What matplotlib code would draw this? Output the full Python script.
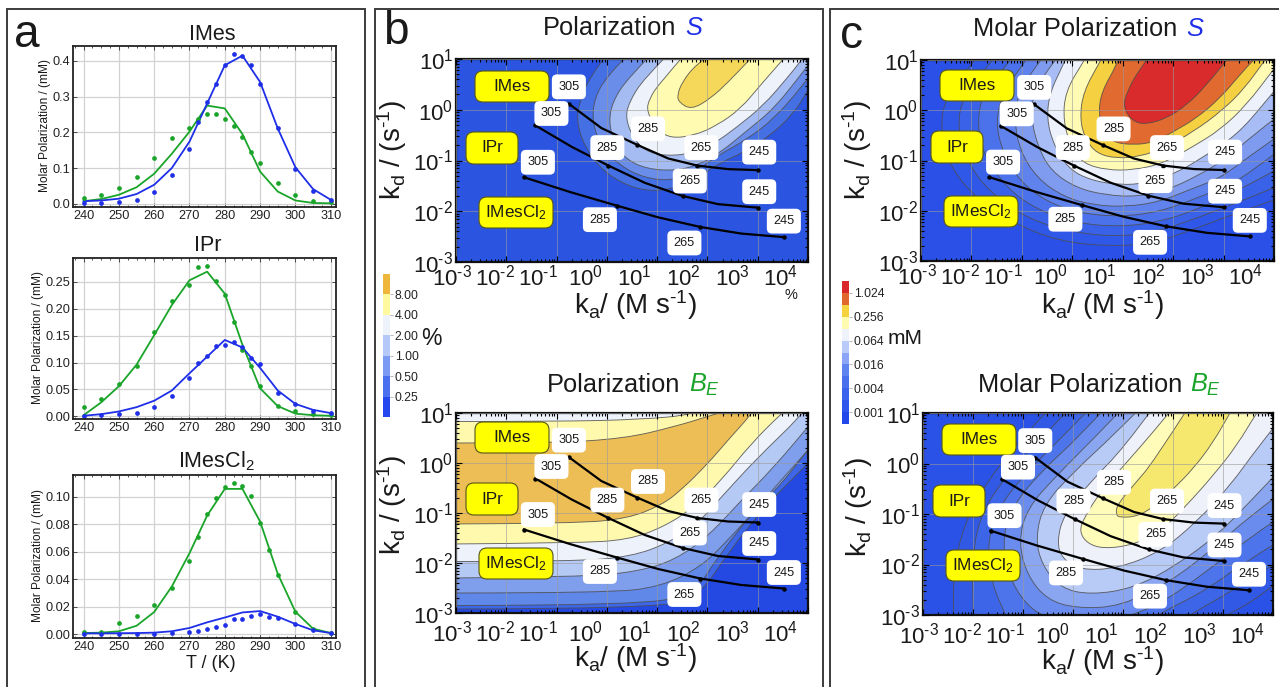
"""Hyperpolarization panels: molar polarization curves and ka/kd contour maps."""

import matplotlib
matplotlib.use("Agg")
import matplotlib.pyplot as plt
import numpy as np
from matplotlib.colorbar import ColorbarBase
from matplotlib.colors import BoundaryNorm, ListedColormap
from matplotlib.patches import FancyBboxPatch, PathPatch, Rectangle
from matplotlib.path import Path
from matplotlib.ticker import LogLocator, NullFormatter
from matplotlib.transforms import Affine2D

plt.rcParams["font.family"] = ["Liberation Sans", "DejaVu Sans"]
plt.rcParams["mathtext.fontset"] = "custom"
plt.rcParams["mathtext.rm"] = "Liberation Sans"
plt.rcParams["mathtext.it"] = "Liberation Sans:italic"
plt.rcParams["mathtext.default"] = "regular"

W, H = 1279, 687
BLUE = "#1f2fe8"
GREEN = "#1aa52a"
TEXT = "#1a1a1a"

# panel a: temperatures
T_pts = [240, 245, 250, 255, 260, 265, 270, 272.5, 275, 277.5, 280, 282.5, 285, 287.5, 290, 295, 300, 305, 310]
T_pts_cl = [240, 245, 250, 255, 260, 265, 270, 272.5, 275, 277.5, 280, 282.5, 285, 287.5, 290, 292.5, 295, 300, 305, 310]
T_fit = [240, 245, 250, 255, 260, 265, 270, 275, 280, 285, 290, 295, 300, 305, 310]

imes_blue_pts = [.002, .002, .004, .011, .033, .081, .153, .23, .285, .336, .39, .42, .413, .389, .336, .212, .098, .036, .009]
imes_blue_fit = [.007, .009, .014, .027, .053, .10, .174, .281, .388, .415, .341, .211, .102, .041, .011]
imes_green_pts = [.015, .025, .044, .075, .128, .183, .212, .238, .252, .251, .236, .218, .188, .145, .115, .059, .025, .008, .004]
imes_green_fit = [.007, .013, .025, .046, .084, .14, .202, .275, .267, .195, .09, .034, .009, .002, .001]

ipr_blue_pts = [0, .002, .004, .007, .018, .038, .072, .10, .112, .131, .132, .138, .129, .109, .097, .043, .022, .01, .006]
ipr_blue_fit = [.001, .004, .009, .017, .029, .048, .08, .111, .142, .128, .09, .048, .023, .012, .006]
ipr_green_pts = [.018, .033, .06, .093, .157, .215, .245, .277, .28, .251, .225, .176, .123, .093, .057, .019, .009, .004, .002]
ipr_green_fit = [.002, .026, .056, .096, .151, .207, .253, .269, .228, .133, .052, .019, .005, .002, .001]

cl_blue_pts = [0, 0, 0, 0, .0002, .0007, .0017, .0022, .0036, .0048, .0068, .0111, .0111, .0133, .0143, .0126, .0116, .0073, .0027, .0007]
cl_blue_fit = [.0005, .0005, .0006, .0007, .001, .002, .0044, .0085, .012, .0157, .0167, .0126, .0073, .0027, .0007]
cl_green_pts = [.0017, .0017, .0077, .0133, .021, .0337, .053, .0707, .0874, .0993, .1073, .1097, .108, .1002, .0811, .0608, .0429, .0157, .0034, .001]
cl_green_fit = [.0007, .001, .002, .006, .016, .0346, .0588, .0862, .1056, .1056, .0818, .0438, .0162, .0039, .0007]

# temperature tracks, log10 ka / log10 kd
imes_track_x = [-0.755, -0.11, 0.60, 1.22, 1.80, 2.41, 3.01]
imes_track_y = [0.117, -0.36, -0.69, -0.96, -1.10, -1.17, -1.19]
ipr_track_x = [-1.42, -0.70, 0.03, 0.755, 1.51, 2.21, 3.01]
ipr_track_y = [-0.31, -0.73, -1.10, -1.44, -1.70, -1.86, -1.93]
cl_track_x = [-1.65, -0.735, 0.20, 1.02, 1.86, 2.675, 3.52]
cl_track_y = [-1.33, -1.62, -1.89, -2.12, -2.31, -2.44, -2.51]
temp_labels = ["305", "285", "265", "245"]

# contour lines, log10 ka / log10 kd, outermost first
pol_s_lines = [
    [(0.01, 1.1), (-0.32, 0.68), (-0.55, 0.15), (-0.60, -0.24), (-0.45, -0.71), (-0.12, -1.17), (0.34, -1.47), (0.80, -1.60), (1.27, -1.57), (1.80, -1.34), (2.26, -1.04), (2.72, -0.84), (3.25, -0.51), (3.71, -0.08), (3.98, 0.35), (4.1, 0.55)],
    [(0.44, 1.1), (0.01, 0.68), (-0.25, 0.22), (-0.29, -0.24), (-0.12, -0.71), (0.27, -1.11), (0.74, -1.34), (1.27, -1.40), (1.73, -1.24), (2.19, -0.91), (2.79, -0.58), (3.32, -0.18), (3.85, 0.42), (4.1, 0.75)],
    [(0.90, 1.1), (0.41, 0.62), (0.11, 0.15), (0.04, -0.24), (0.14, -0.64), (0.37, -0.97), (0.80, -1.17), (1.40, -1.20), (1.86, -1.07), (2.26, -0.84), (2.79, -0.41), (3.32, 0.02), (3.85, 0.68), (4.1, 1.0)],
    [(1.23, 1.1), (0.74, 0.62), (0.44, 0.15), (0.37, -0.18), (0.54, -0.58), (0.77, -0.81), (1.13, -0.91), (1.66, -0.87), (2.13, -0.67), (2.59, -0.34), (3.12, 0.09), (3.58, 0.62), (3.85, 0.95), (3.95, 1.1)],
    [(1.56, 1.1), (1.07, 0.55), (0.84, 0.22), (0.79, -0.05), (1.03, -0.41), (1.27, -0.56), (1.73, -0.51), (2.19, -0.31), (2.66, 0.02), (3.05, 0.48), (3.51, 1.0), (3.6, 1.1)],
    [(2.06, 1.1), (1.76, 0.88), (1.50, 0.55), (1.40, 0.29), (1.43, 0.15), (1.68, 0.0), (2.06, 0.22), (2.42, 0.55), (2.85, 1.0), (2.95, 1.1)],
]
pol_s_colors = ["#2b55e0", "#4470e4", "#6a8dea", "#a5bcf2", "#eef2fa", "#fffbb0", "#f5d85a"]

pol_be_lines = [
    [(-3.1, -2.92), (1.22, -2.92), (1.88, -2.60), (2.41, -1.80), (3.14, -0.87), (4.0, -0.01), (4.1, 0.1)],
    [(-3.1, -2.85), (0.69, -2.85), (1.75, -2.60), (2.21, -1.87), (2.94, -0.94), (4.0, 0.26), (4.1, 0.36)],
    [(-3.1, -2.60), (0.03, -2.60), (1.09, -2.47), (1.88, -2.07), (2.41, -1.54), (3.07, -0.81), (3.60, -0.28), (4.1, 0.4)],
    [(-3.1, -2.30), (-0.5, -2.28), (0.62, -2.17), (1.35, -1.94), (2.01, -1.47), (2.68, -0.74), (3.27, -0.14), (4.0, 0.72), (4.1, 0.85)],
    [(-3.1, -1.97), (-0.64, -1.97), (0.49, -1.87), (1.22, -1.60), (1.81, -1.21), (2.34, -0.61), (3.01, 0.12), (3.87, 0.95), (3.95, 1.1)],
    [(-3.1, -1.62), (-0.64, -1.60), (0.42, -1.54), (1.15, -1.27), (1.75, -0.87), (2.28, -0.34), (2.87, 0.39), (3.47, 0.99), (3.6, 1.1)],
    [(-3.1, -1.22), (-0.64, -1.21), (0.42, -1.11), (1.09, -0.84), (1.48, -0.54), (2.01, -0.01), (2.41, 0.46), (2.87, 0.97), (2.95, 1.1)],
    # upper edges of the plateau, falling again towards high kd
    [(-3.1, 0.40), (-1.10, 0.40), (0.36, 0.49), (1.35, 0.73), (2.01, 0.93), (2.54, 1.1)],
    [(-3.1, 0.83), (-0.97, 0.83), (0.69, 0.87), (1.75, 0.97), (1.95, 1.1)],
]
pol_be_colors = ["#2449e3", "#3d67e6", "#6088e9", "#7f9fec", "#b5c9f5", "#eef2fa", "#fff9ae", "#edbe55", "#fff9ae", "#eef2fa"]

molar_s_lines = [
    [(-1.85, 1.1), (-2.02, 0.90), (-2.52, 0.24), (-2.62, -0.36), (-2.42, -1.16), (-1.83, -1.82), (-1.10, -2.28), (-0.24, -2.61), (0.75, -2.71), (1.61, -2.65), (2.46, -2.35), (3.32, -2.02), (4.1, -1.75)],
    [(-1.5, 1.1), (-1.66, 0.90), (-2.16, 0.30), (-2.29, -0.36), (-2.02, -1.16), (-1.56, -1.69), (-0.90, -2.15), (-0.04, -2.42), (0.88, -2.52), (1.67, -2.42), (2.46, -2.15), (3.32, -1.82), (4.1, -1.5)],
    [(-1.15, 1.1), (-1.30, 0.90), (-1.76, 0.37), (-1.89, -0.23), (-1.76, -0.89), (-1.30, -1.55), (-0.70, -1.98), (0.09, -2.25), (0.95, -2.32), (1.74, -2.22), (2.46, -1.98), (3.26, -1.62), (4.1, -1.15)],
    [(-0.85, 1.1), (-0.97, 0.93), (-1.36, 0.37), (-1.53, -0.23), (-1.36, -0.89), (-1.03, -1.42), (-0.51, -1.82), (0.15, -2.05), (0.95, -2.12), (1.74, -2.02), (2.46, -1.75), (3.12, -1.49), (3.59, -1.19), (4.1, -0.8)],
    [(-0.55, 1.1), (-0.70, 0.90), (-1.07, 0.37), (-1.15, -0.23), (-1.03, -0.82), (-0.70, -1.35), (-0.18, -1.72), (0.42, -1.89), (1.08, -1.92), (1.74, -1.82), (2.40, -1.55), (2.93, -1.35), (3.45, -0.96), (4.1, -0.5)],
    [(-0.25, 1.1), (-0.37, 0.97), (-0.77, 0.37), (-0.82, -0.16), (-0.67, -0.76), (-0.41, -1.22), (0.09, -1.55), (0.68, -1.69), (1.28, -1.72), (1.87, -1.59), (2.46, -1.32), (3.06, -0.96), (3.59, -0.49), (4.1, -0.1)],
    [(-0.1, 1.1), (-0.18, 0.90), (-0.44, 0.37), (-0.51, -0.16), (-0.37, -0.69), (-0.08, -1.16), (0.35, -1.39), (0.95, -1.49), (1.47, -1.45), (2.07, -1.25), (2.66, -0.89), (3.26, -0.49), (3.78, 0.10), (4.1, 0.5)],
    [(0.3, 1.1), (0.22, 0.97), (-0.14, 0.37), (-0.18, -0.23), (-0.01, -0.76), (0.22, -1.06), (0.68, -1.19), (1.21, -1.19), (1.80, -1.06), (2.40, -0.72), (2.93, -0.39), (3.45, 0.10), (3.98, 0.80), (4.1, 0.95)],
    [(0.62, 1.1), (0.55, 0.97), (0.22, 0.37), (0.15, -0.16), (0.25, -0.56), (0.48, -0.86), (0.88, -0.96), (1.34, -0.92), (1.80, -0.76), (2.40, -0.43), (2.99, 0.01), (3.42, 0.44), (3.82, 1.0), (3.9, 1.1)],
    [(0.95, 1.1), (0.88, 0.90), (0.58, 0.37), (0.52, -0.06), (0.62, -0.43), (0.81, -0.64), (1.21, -0.69), (1.61, -0.64), (2.0, -0.43), (2.46, -0.16), (2.93, 0.24), (3.32, 0.70), (3.59, 1.0), (3.7, 1.1)],
    [(1.55, 1.1), (1.34, 0.83), (1.08, 0.37), (1.01, 0.04), (1.21, -0.23), (1.47, -0.28), (1.87, -0.16), (2.27, 0.10), (2.66, 0.50), (3.06, 1.0), (3.15, 1.1)],
]
molar_s_colors = ["#2a50e8", "#3058e8", "#3a62e9", "#4c72eb", "#5f82ed", "#7e9bf0", "#a8bdf5", "#edf1fb", "#fffbb5", "#f5d040", "#e06a30", "#d92b2b"]

molar_be_lines = [
    [(-0.45, 1.1), (-1.05, 0.49), (-1.72, -0.36), (-2.19, -1.22), (-2.39, -2.14), (-2.39, -3.06), (-2.39, -3.33), (2.68, -3.33), (2.95, -3.06), (3.61, -2.73), (4.1, -2.34)],
    [(-0.05, 1.1), (-0.65, 0.49), (-1.39, -0.30), (-1.89, -1.09), (-2.02, -2.01), (-1.99, -3.06), (-1.99, -3.33), (2.01, -3.33), (2.21, -3.06), (3.28, -2.47), (4.1, -1.94)],
    [(0.35, 1.1), (-0.25, 0.49), (-0.99, -0.23), (-1.55, -0.96), (-1.72, -1.68), (-1.62, -2.40), (-1.32, -3.06), (-1.19, -3.33), (1.35, -3.33), (1.55, -3.06), (2.61, -2.54), (3.35, -2.01), (4.1, -1.55)],
    [(0.65, 1.1), (0.08, 0.49), (-0.65, -0.17), (-1.25, -0.89), (-1.42, -1.61), (-1.25, -2.34), (-0.82, -2.93), (-0.25, -3.13), (0.68, -3.13), (1.61, -2.87), (2.68, -2.14), (3.41, -1.55), (4.1, -1.09)],
    [(1.0, 1.1), (0.48, 0.56), (-0.32, -0.23), (-0.92, -0.89), (-1.09, -1.55), (-0.92, -2.21), (-0.52, -2.70), (0.08, -2.87), (0.95, -2.83), (1.95, -2.34), (2.81, -1.68), (3.48, -1.09), (4.1, -0.63)],
    [(1.35, 1.1), (0.81, 0.56), (0.01, -0.17), (-0.59, -0.82), (-0.75, -1.48), (-0.62, -2.01), (-0.25, -2.47), (0.35, -2.60), (1.21, -2.47), (2.08, -2.01), (2.88, -1.42), (3.48, -0.82), (4.1, -0.17)],
    [(1.6, 1.1), (1.01, 0.30), (0.35, -0.36), (-0.19, -1.02), (-0.32, -1.55), (-0.22, -1.88), (0.15, -2.11), (0.88, -2.08), (1.75, -1.75), (2.48, -1.15), (3.15, -0.43), (3.68, 0.30), (4.1, 0.82)],
    [(2.0, 1.1), (1.61, 0.63), (1.08, 0.03), (0.55, -0.56), (0.21, -1.09), (0.13, -1.35), (0.28, -1.58), (0.61, -1.69), (1.21, -1.61), (1.75, -1.35), (2.28, -0.82), (2.81, -0.23), (3.28, 0.36), (3.68, 1.02), (3.75, 1.1)],
    [(2.3, 1.1), (1.61, 0.03), (1.21, -0.43), (0.88, -0.82), (0.86, -1.0), (0.92, -1.07), (1.28, -1.05), (1.61, -0.86), (1.95, -0.56), (2.41, -0.10), (2.81, 0.43), (3.15, 1.02), (3.2, 1.1)],
]
molar_be_colors = ["#2a52e6", "#3159e6", "#3d65e8", "#4d74ea", "#6a8cee", "#8aa6f1", "#b8cbf7", "#eef1fa", "#fffbb8", "#f6e86e"]

pct_levels = [0.125, 0.25, 0.5, 1, 2, 4, 8, 16]
pct_ticks = [0.25, 0.5, 1, 2, 4, 8]
pct_colors = ["#2448ee", "#4a70f0", "#7a9af4", "#b4c8f9", "#eef2fb", "#fff9a0", "#efb63c"]
mm_levels = [0.0005, 0.001, 0.002, 0.004, 0.008, 0.016, 0.032, 0.064, 0.128, 0.256, 0.512, 1.024, 2.048]
mm_ticks = [0.001, 0.004, 0.016, 0.064, 0.256, 1.024]
mm_colors = ["#2248ec", "#2f56ec", "#3a63ee", "#4a70ee", "#5f83f0", "#8aa5f5", "#b8cbfa", "#eef2fc", "#fffbb0", "#f4d33e", "#e0682e", "#d9262a"]

x_exponents = [-3, -2, -1, 0, 1, 2, 3, 4]
y_exponents = [-3, -2, -1, 0, 1]
# the x labels sit off their ticks in the original
x_label_dx = [-4, 39, 82, 130, 178, 227, 276, 325]


def power_label(e):
    # short hyphen in the exponent, the mathtext minus is too wide here
    return "10$^{%s}$" % str(e).replace("-", "\u2010")


def px_axes(fig, left, top, right, bottom):
    return fig.add_axes([left / W, 1 - bottom / H, (right - left) / W, (bottom - top) / H])


def fig_text(fig, x, y, s, **kw):
    kw.setdefault("color", TEXT)
    kw.setdefault("ha", "center")
    kw.setdefault("va", "center")
    return fig.text(x / W, 1 - y / H, s, **kw)


def draw_curve_panel(fig, top, bottom, ylim, yticks, yfmt, T_dots, dots_g, fit_g, dots_b, fit_b):
    ax = px_axes(fig, 73, top, 336, bottom)
    ax.grid(True, color="#d2d2d2", lw=0.9)
    ax.set_axisbelow(True)
    ax.plot(T_fit, fit_g, color=GREEN, lw=1.3)
    ax.plot(T_fit, fit_b, color=BLUE, lw=1.3)
    ax.plot(T_dots, dots_g, "o", color=GREEN, ms=3.4, mew=0)
    ax.plot(T_dots, dots_b, "o", color=BLUE, ms=3.4, mew=0)
    ax.set_xlim(237, 311.5)
    ax.set_ylim(*ylim)
    ax.set_xticks(range(240, 311, 10))
    ax.set_yticks(yticks)
    ax.set_yticklabels([yfmt % v for v in yticks])
    ax.set_xticks(np.arange(237.5, 311, 2.5), minor=True)
    ax.tick_params(which="both", direction="in", top=True, right=True, width=0.6, color="#333333")
    ax.tick_params(which="major", length=3, labelsize=9.2, pad=2, labelcolor="#222222")
    ax.tick_params(which="minor", length=1.5)
    for s in ax.spines.values():
        s.set_linewidth(1.3)
        s.set_color("#222222")
    return ax


def contour_path(points, closure):
    """Smooth contour through the read points, optionally closed off outside the axes."""
    pts = np.array(points, dtype=float)
    verts = [pts[0]]
    codes = [Path.MOVETO]
    for i in range(1, len(pts) - 1):
        end = pts[-1] if i == len(pts) - 2 else (pts[i] + pts[i + 1]) / 2
        verts += [pts[i], end]
        codes += [Path.CURVE3, Path.CURVE3]
    if closure == "tr":
        tail = [(5, pts[-1][1]), (5, 2.0), (pts[0][0], 2.0)]
    elif closure == "tl":
        tail = [(pts[-1][0], 2.0), (-4, 2.0), (-4, pts[0][1])]
    else:
        tail = []
    if tail:
        verts += tail + [pts[0]]
        codes += [Path.LINETO] * len(tail) + [Path.CLOSEPOLY]
    return Path(10.0 ** np.array(verts), codes)


def draw_map_panel(fig, box, lines, colors, closure, label_drop):
    ax = px_axes(fig, *box)
    ax.set_xscale("log")
    ax.set_yscale("log")
    ax.set_facecolor(colors[0])
    for pts, col in zip(lines, colors[1:]):
        ax.add_patch(PathPatch(contour_path(pts, closure), facecolor=col, edgecolor="none", zorder=1))
    for pts in lines:
        ax.add_patch(PathPatch(contour_path(pts, None), facecolor="none", edgecolor="#4d4d4d", lw=0.65, alpha=0.85, zorder=1.5))
    ax.set_xlim(1e-3, 1e4)
    ax.set_ylim(1e-3, 1e1)

    ax.grid(True, which="major", color="#9a9a9a", lw=0.7, alpha=0.6)
    ax.set_axisbelow(False)
    ax.set_xticks([10.0 ** e for e in x_exponents])
    ax.set_yticks([10.0 ** e for e in y_exponents])
    ax.set_yticklabels([power_label(e) for e in y_exponents])
    ax.xaxis.set_major_formatter(NullFormatter())
    for axis in (ax.xaxis, ax.yaxis):
        axis.set_minor_locator(LogLocator(base=10, subs=np.arange(2, 10), numticks=12))
        axis.set_minor_formatter(NullFormatter())
    ax.tick_params(which="both", direction="in", top=True, right=True, color="black", width=0.8)
    ax.tick_params(which="major", length=4)
    ax.tick_params(which="minor", length=2)
    ax.tick_params(axis="y", which="major", labelsize=16, pad=2, labelcolor=TEXT)
    for s in ax.spines.values():
        s.set_linewidth(1.6)
        s.set_color("#111111")

    for e, dx in zip(x_exponents, x_label_dx):
        ax.annotate(power_label(e), xy=(0, 0), xycoords="axes fraction", xytext=(dx, -label_drop),
                    textcoords="offset pixels", ha="center", va="center", fontsize=16, color=TEXT,
                    annotation_clip=False)

    # yellow catalyst tags, pixel boxes measured from the axes corner
    corner = Affine2D().translate(box[0], H - box[3])
    tags = [("IMes", 19, 160, 74, 31), ("IPr", 10, 98, 52, 32), ("IMesCl$_2$", 23, 34, 74, 31)]
    for name, x0, y0, w, h in tags:
        ax.add_patch(FancyBboxPatch((x0 + 6, y0 + 6), w - 12, h - 12, boxstyle="round,pad=6,rounding_size=8",
                                    transform=corner, facecolor="#ffff00", edgecolor="#55551a", lw=0.8,
                                    zorder=6, clip_on=False))
        ax.text(x0 + w / 2, y0 + h / 2, name, transform=corner, ha="center", va="center",
                fontsize=12.3, color=TEXT, zorder=7)

    tracks = [(imes_track_x, imes_track_y, [(0, 17), (11, 16), (4, 18), (1, 18)]),
              (ipr_track_x, ipr_track_y, [(16, 12), (-1, 18), (7, 15), (1, 16)]),
              (cl_track_x, cl_track_y, [(14, 15), (-17, -14), (-16, -16), (0, 16)])]
    for tx, ty, offsets in tracks:
        kx = 10.0 ** np.array(tx)
        ky = 10.0 ** np.array(ty)
        ax.plot(kx, ky, color="black", lw=1.6, zorder=5)
        ax.plot(kx[::2], ky[::2], "o", color="black", ms=3.2, mew=0, zorder=5)
        for x, y, lab, off in zip(kx[::2], ky[::2], temp_labels, offsets):
            ax.annotate(lab, xy=(x, y), xytext=off, textcoords="offset pixels", ha="center", va="center",
                        fontsize=9.2, color=TEXT, zorder=8,
                        bbox=dict(boxstyle="round,pad=0.5,rounding_size=0.4", fc="white", ec="none"))
    return ax


def draw_colorbar(fig, box, levels, ticks, colors, fmt):
    cax = px_axes(fig, *box)
    norm = BoundaryNorm(levels, len(colors))
    cb = ColorbarBase(cax, cmap=ListedColormap(colors), norm=norm, spacing="uniform", ticks=ticks)
    cb.ax.set_yticklabels([fmt % v for v in ticks])
    cb.ax.minorticks_off()
    cb.outline.set_visible(False)
    cb.ax.tick_params(length=2, width=0.5, pad=1.5, labelsize=8.8, color="#999999", labelcolor="#222222")


def main():
    fig = plt.figure(figsize=(W / 100, H / 100), dpi=100, facecolor="white")

    for x0, x1 in [(7, 365), (375, 823), (830, 1290)]:
        fig.add_artist(Rectangle((x0 / W, -0.02), (x1 - x0) / W, 1 - 9 / H + 0.02, transform=fig.transFigure,
                                 fill=False, edgecolor="#3c3c3c", lw=1.4))

    fig_text(fig, 27, 35, "a", fontsize=33)
    fig_text(fig, 396, 32, "b", fontsize=33)
    fig_text(fig, 851, 36, "c", fontsize=33)

    # panel a
    draw_curve_panel(fig, 46, 207, (-0.0093, 0.442), [0, .1, .2, .3, .4], "%.1f", T_pts,
                     imes_green_pts, imes_green_fit, imes_blue_pts, imes_blue_fit)
    draw_curve_panel(fig, 258, 419, (-0.005, 0.2944), [0, .05, .1, .15, .2, .25], "%.2f", T_pts,
                     ipr_green_pts, ipr_green_fit, ipr_blue_pts, ipr_blue_fit)
    draw_curve_panel(fig, 475, 638, (-0.0029, 0.1157), [0, .02, .04, .06, .08, .1], "%.2f", T_pts_cl,
                     cl_green_pts, cl_green_fit, cl_blue_pts, cl_blue_fit)
    fig_text(fig, 212, 34, "IMes", fontsize=15.5)
    fig_text(fig, 208, 246, "IPr", fontsize=15.5)
    fig_text(fig, 216, 461, "IMesCl$_2$", fontsize=15.5)
    fig_text(fig, 211, 663, "T / (K)", fontsize=13)
    for yc in (126, 338, 556):
        fig_text(fig, 45 if yc == 126 else 38, yc, "Molar Polarization / (mM)", fontsize=8.6, rotation=90)

    # panels b and c
    draw_map_panel(fig, (456, 59, 808, 262), pol_s_lines, pol_s_colors, "tr", 16)
    draw_map_panel(fig, (456, 413, 808, 613), pol_be_lines, pol_be_colors, "tl", 21)
    draw_map_panel(fig, (921, 60, 1274, 261), molar_s_lines, molar_s_colors, "tr", 16)
    draw_map_panel(fig, (923, 413, 1273, 615), molar_be_lines, molar_be_colors, "tr", 21)

    # the titles carry a coloured italic symbol
    for x, y, s, xs, sym, col in [
        (543, 28, "Polarization", 685, r"$\mathit{S}$", BLUE),
        (547, 385, "Polarization", 689, r"$\mathit{B_E}$", GREEN),
        (973, 29, "Molar Polarization", 1186, r"$\mathit{S}$", BLUE),
        (978, 385, "Molar Polarization", 1190, r"$\mathit{B_E}$", GREEN),
    ]:
        fig_text(fig, x, y, s, fontsize=18.3, ha="left")
        fig_text(fig, xs, y, sym, fontsize=18.3, ha="left", color=col)

    ka = "k$_a$/ (M s$^{\u20101}$)"
    kd = "k$_d$ / (s$^{\u20101}$)"
    for x, y in [(635, 305), (635, 658), (1102, 305), (1102, 661)]:
        fig_text(fig, x, y, ka, fontsize=20)
    for x, y in [(392, 150), (392, 505), (857, 150), (858, 507)]:
        fig_text(fig, x, y, kd, fontsize=20, rotation=90)

    draw_colorbar(fig, (383, 274, 390, 417), pct_levels, pct_ticks, pct_colors, "%.2f")
    draw_colorbar(fig, (842, 281, 849, 424), mm_levels, mm_ticks, mm_colors, "%.3f")
    fig_text(fig, 431, 339, "%", fontsize=16.5)
    fig_text(fig, 905, 339, "mM", fontsize=15)
    fig_text(fig, 791, 295, "%", fontsize=10.5)

    fig.savefig("out.png", dpi=100, facecolor="white")
    plt.close(fig)


if __name__ == "__main__":
    main()
